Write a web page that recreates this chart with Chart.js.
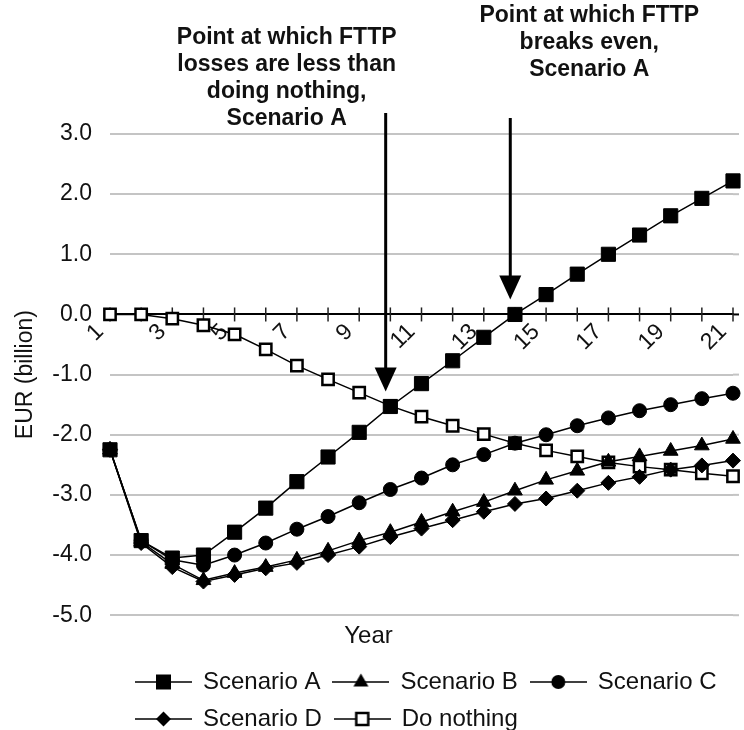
<!DOCTYPE html>
<html>
<head>
<meta charset="utf-8">
<script src="https://cdn.jsdelivr.net/npm/chart.js@4/dist/chart.umd.min.js"></script>
<style>
html,body{margin:0;padding:0;background:#fff;}
#wrap{width:744px;height:730px;}
</style>
</head>
<body>
<div id="wrap"><canvas id="c" width="744" height="730"></canvas></div>
<script>
// ---- data ----
const years = ['1','2','3','4','5','6','7','8','9','10','11','12','13','14','15','16','17','18','19','20','21'];
const scenarioA = [-2.25,-3.76,-4.05,-4.00,-3.62,-3.22,-2.78,-2.37,-1.96,-1.53,-1.15,-0.77,-0.38,0.00,0.33,0.67,1.00,1.32,1.64,1.93,2.22];
const scenarioB = [-2.25,-3.78,-4.15,-4.42,-4.30,-4.20,-4.08,-3.93,-3.76,-3.62,-3.45,-3.28,-3.12,-2.93,-2.75,-2.60,-2.45,-2.36,-2.27,-2.18,-2.07];
const scenarioC = [-2.25,-3.76,-4.08,-4.17,-4.00,-3.80,-3.57,-3.36,-3.13,-2.91,-2.72,-2.50,-2.33,-2.14,-2.00,-1.85,-1.72,-1.60,-1.50,-1.40,-1.31];
const scenarioD = [-2.25,-3.80,-4.20,-4.44,-4.33,-4.22,-4.13,-4.00,-3.86,-3.70,-3.56,-3.42,-3.28,-3.15,-3.06,-2.93,-2.80,-2.70,-2.58,-2.51,-2.43];
const doNothing = [0.00,0.00,-0.07,-0.18,-0.33,-0.58,-0.85,-1.08,-1.30,-1.52,-1.70,-1.85,-1.99,-2.14,-2.26,-2.36,-2.46,-2.53,-2.58,-2.64,-2.69];
const seriesNames = ['Scenario A','Scenario B','Scenario C','Scenario D','Do nothing'];
const yTicks = [-5,-4,-3,-2,-1,0,1,2,3];
const noteLeft = ['Point at which FTTP','losses are less than','doing nothing,','Scenario A'];
const noteRight = ['Point at which FTTP','breaks even,','Scenario A'];

const FONT = "'Liberation Sans', Arial, Helvetica, sans-serif";
const TXT = '#111';
const GRID = '#c4c4c4';

function makeIcon(kind){
  const c = document.createElement('canvas');
  c.width = 57; c.height = 24;
  const g = c.getContext('2d');
  g.strokeStyle = '#000'; g.lineWidth = 1.5;
  g.beginPath(); g.moveTo(0,12); g.lineTo(57,12); g.stroke();
  const cx = 28.5, cy = 12;
  g.fillStyle = '#000';
  g.beginPath();
  if (kind === 'rect') { g.rect(cx-7.5, cy-7.5, 15, 15); g.fill(); }
  else if (kind === 'triangle') { g.moveTo(cx, cy-8.5); g.lineTo(cx+7.5, cy+4.5); g.lineTo(cx-7.5, cy+4.5); g.closePath(); g.fill(); }
  else if (kind === 'circle') { g.arc(cx, cy, 7, 0, Math.PI*2); g.fill(); }
  else if (kind === 'rectRot') { g.moveTo(cx, cy-7.5); g.lineTo(cx+7.5, cy); g.lineTo(cx, cy+7.5); g.lineTo(cx-7.5, cy); g.closePath(); g.fill(); }
  else { g.rect(cx-6, cy-6, 12, 12); g.fillStyle = '#fff'; g.fill(); g.lineWidth = 2.5; g.stroke(); }
  return c;
}
const iconKinds = ['rect','triangle','circle','rectRot','open'];
const icons = iconKinds.map(makeIcon);

function ds(label, data, style, radius, bg, bw){
  return {
    label, data,
    borderColor: '#000', borderWidth: 1.5,
    pointStyle: style, pointRadius: radius, pointHoverRadius: radius,
    pointBackgroundColor: bg, pointBorderColor: '#000', pointBorderWidth: bw,
    backgroundColor: bg, tension: 0, fill: false
  };
}

const crossTicks = {
  id: 'crossTicks',
  beforeDatasetsDraw(chart){
    const {ctx, chartArea, scales:{x, y}} = chart;
    const y0 = y.getPixelForValue(0);
    ctx.save();
    // extend gridlines and axis line a little past the last category
    ctx.strokeStyle = GRID; ctx.lineWidth = 2;
    yTicks.forEach(v => {
      if (v === 0) return;
      const py = y.getPixelForValue(v);
      ctx.beginPath(); ctx.moveTo(chartArea.right, py); ctx.lineTo(chartArea.right + 6, py); ctx.stroke();
    });
    ctx.strokeStyle = '#000';
    ctx.beginPath(); ctx.moveTo(chartArea.right, y0); ctx.lineTo(chartArea.right + 6, y0); ctx.stroke();
    ctx.strokeStyle = '#222'; ctx.lineWidth = 1.5;
    for (let i = 0; i < years.length; i++){
      const px = x.getPixelForValue(i);
      ctx.beginPath(); ctx.moveTo(px, y0-7); ctx.lineTo(px, y0+7); ctx.stroke();
    }
    ctx.restore();
  }
};

const notes = {
  id: 'notes',
  afterDraw(chart){
    const {ctx, scales:{x, y}} = chart;
    ctx.save();
    ctx.fillStyle = TXT;
    ctx.font = "bold 23px " + FONT;
    ctx.textAlign = 'center';
    ctx.textBaseline = 'middle';
    const arrows = [
      {at: 8.85, tip: -1.28, top: 113, text: noteLeft, tx: -99, ty: 38},
      {at: 12.85, tip: 0.25, top: 118, text: noteRight, tx: 79, ty: 16}
    ];
    arrows.forEach(a => {
      const ax = x.getPixelForValue(a.at);
      const tipY = y.getPixelForValue(a.tip);
      a.text.forEach((t, i) => ctx.fillText(t, ax + a.tx, a.ty + i*26.8));
      ctx.strokeStyle = '#000'; ctx.lineWidth = 3;
      ctx.beginPath(); ctx.moveTo(ax, a.top); ctx.lineTo(ax, tipY - 20); ctx.stroke();
      ctx.fillStyle = '#000';
      ctx.beginPath(); ctx.moveTo(ax - 11, tipY - 24); ctx.lineTo(ax + 11, tipY - 24); ctx.lineTo(ax, tipY); ctx.closePath(); ctx.fill();
      ctx.fillStyle = TXT;
    });
    ctx.restore();
  }
};

const legendShift = {
  id: 'legendShift',
  afterLayout(chart){
    const lg = chart.legend;
    if (!lg) return;
    const dx = 136 - (lg.left + lg.options.labels.padding);
    lg.left += dx; lg.right += dx;
  }
};

new Chart(document.getElementById('c'), {
  type: 'line',
  data: {
    labels: years,
    datasets: [
      ds(seriesNames[0], scenarioA, 'rect', 10, '#000', 1),
      ds(seriesNames[1], scenarioB, 'triangle', 8.5, '#000', 1),
      ds(seriesNames[2], scenarioC, 'circle', 7, '#000', 1),
      ds(seriesNames[3], scenarioD, 'rectRot', 7.5, '#000', 1),
      ds(seriesNames[4], doNothing, 'rect', 8, '#fff', 2.5)
    ]
  },
  options: {
    responsive: false,
    animation: false,
    devicePixelRatio: 1,
    layout: { padding: { top: 134, right: 7, left: 0, bottom: -11 } },
    scales: {
      x: {
        type: 'category',
        position: { y: 0 },
        offset: false,
        grid: { display: false, drawTicks: false },
        border: { display: true, color: '#000', width: 2 },
        ticks: {
          autoSkip: false, minRotation: 45, maxRotation: 45,
          padding: 4, labelOffset: -10,
          color: TXT, font: { family: FONT, size: 23 },
          callback: (v, i) => (i % 2 === 0 ? years[i] : '')
        },
        afterFit(s){ s.height = 0; s.paddingLeft = 0; s.paddingRight = 0; }
      },
      y: {
        min: -5, max: 3,
        afterBuildTicks(s){ s.ticks = yTicks.map(v => ({value: v})); },
        grid: {
          drawTicks: false, lineWidth: 2,
          color: c => (c.tick && c.tick.value === 0 ? 'rgba(0,0,0,0)' : GRID)
        },
        border: { display: false },
        ticks: {
          padding: 18, color: TXT, font: { family: FONT, size: 23 },
          callback: v => Number(v).toFixed(1)
        },
        title: {
          display: true, text: 'EUR (billion)', color: TXT,
          font: { family: FONT, size: 23 }, padding: { top: 12, bottom: 0 }
        },
        afterFit(s){ s.width = 110; s.paddingTop = 0; s.paddingBottom = 0; }
      }
    },
    plugins: {
      tooltip: { enabled: false },
      title: {
        display: true, text: 'Year', position: 'bottom', weight: 500,
        color: TXT, font: { family: FONT, size: 24, weight: 'normal', lineHeight: 1.2 },
        padding: { top: 7, bottom: 6 }
      },
      legend: {
        position: 'bottom', align: 'start',
        labels: {
          usePointStyle: true, pointStyleWidth: 55, padding: 13,
          color: TXT, font: { family: FONT, size: 24 },
          generateLabels(chart){
            return chart.data.datasets.map((d, i) => ({
              text: d.label, datasetIndex: i, pointStyle: icons[i],
              fillStyle: '#000', strokeStyle: '#000', lineWidth: 0, hidden: false, fontColor: TXT
            }));
          }
        }
      }
    }
  },
  plugins: [crossTicks, notes, legendShift]
});
</script>
</body>
</html>
